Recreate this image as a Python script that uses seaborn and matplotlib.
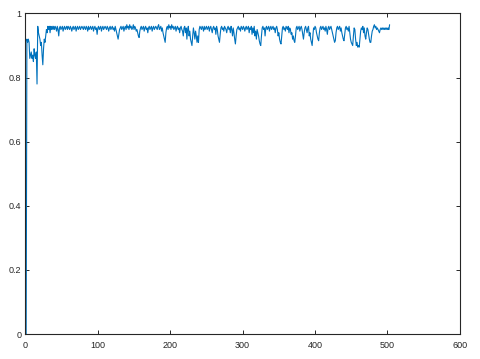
import matplotlib
matplotlib.use("Agg")
import matplotlib.pyplot as plt
import seaborn as sns
import pandas as pd

values_head = [
    0.00, 0.92, 0.91, 0.92, 0.91, 0.86, 0.87, 0.88, 0.86, 0.87,
    0.85, 0.89, 0.87, 0.86, 0.88, 0.78, 0.96, 0.94, 0.93, 0.92,
    0.90, 0.91, 0.87, 0.84, 0.89, 0.92, 0.91, 0.93, 0.95, 0.94,
    0.96, 0.95, 0.96, 0.94, 0.96, 0.95, 0.96, 0.95, 0.96, 0.95,
    0.96, 0.955, 0.945, 0.96, 0.95, 0.93, 0.955, 0.96, 0.95, 0.955,
    0.96, 0.945, 0.955, 0.96, 0.95, 0.955, 0.96, 0.95, 0.96, 0.955,
    0.95, 0.96, 0.955, 0.945, 0.955, 0.96, 0.95, 0.955, 0.96, 0.945,
    0.955, 0.96, 0.95, 0.955, 0.96, 0.95, 0.955, 0.96, 0.955, 0.95,
    0.96, 0.955, 0.95, 0.96, 0.955, 0.945, 0.96, 0.95, 0.955, 0.96,
    0.95, 0.955, 0.96, 0.945, 0.955, 0.96, 0.95, 0.955, 0.935, 0.955,
]
values_mid1 = [
    0.96, 0.95, 0.955, 0.96, 0.945, 0.955, 0.96, 0.95, 0.955, 0.96,
    0.955, 0.95, 0.96, 0.955, 0.945, 0.955, 0.96, 0.95, 0.955, 0.96,
    0.95, 0.955, 0.945, 0.96, 0.95, 0.94, 0.93, 0.92, 0.935, 0.95,
    0.955, 0.96, 0.95, 0.955, 0.96, 0.945, 0.955, 0.96, 0.95, 0.965,
    0.955, 0.96, 0.95, 0.965, 0.955, 0.96, 0.95, 0.955, 0.965, 0.95,
    0.96, 0.955, 0.945, 0.95, 0.94, 0.93, 0.925, 0.945, 0.955, 0.96,
    0.95, 0.955, 0.96, 0.945, 0.955, 0.96, 0.95, 0.955, 0.94, 0.955,
    0.96, 0.95, 0.955, 0.96, 0.945, 0.955, 0.96, 0.95, 0.955, 0.96,
    0.955, 0.95, 0.96, 0.965, 0.95, 0.955, 0.96, 0.945, 0.955, 0.94,
    0.93, 0.92, 0.91, 0.94, 0.955, 0.96, 0.95, 0.965, 0.955, 0.96,
]
values_mid2 = [
    0.95, 0.965, 0.955, 0.96, 0.95, 0.955, 0.96, 0.945, 0.955, 0.96,
    0.95, 0.955, 0.94, 0.955, 0.96, 0.95, 0.945, 0.93, 0.955, 0.96,
    0.94, 0.955, 0.92, 0.95, 0.96, 0.93, 0.945, 0.92, 0.91, 0.90,
    0.93, 0.955, 0.94, 0.92, 0.945, 0.93, 0.91, 0.93, 0.91, 0.95,
    0.96, 0.955, 0.95, 0.96, 0.955, 0.945, 0.96, 0.95, 0.955, 0.96,
    0.95, 0.955, 0.96, 0.945, 0.955, 0.96, 0.95, 0.94, 0.955, 0.96,
    0.95, 0.955, 0.935, 0.96, 0.95, 0.93, 0.92, 0.91, 0.935, 0.955,
    0.96, 0.95, 0.955, 0.945, 0.96, 0.955, 0.95, 0.94, 0.955, 0.96,
    0.95, 0.955, 0.94, 0.96, 0.95, 0.93, 0.955, 0.94, 0.92, 0.905,
    0.93, 0.95, 0.955, 0.96, 0.95, 0.955, 0.945, 0.96, 0.955, 0.95,
]
values_mid3 = [
    0.96, 0.955, 0.945, 0.955, 0.96, 0.95, 0.955, 0.96, 0.94, 0.955,
    0.95, 0.96, 0.935, 0.955, 0.94, 0.96, 0.93, 0.945, 0.92, 0.95,
    0.94, 0.93, 0.915, 0.905, 0.90, 0.93, 0.955, 0.96, 0.95, 0.955,
    0.93, 0.955, 0.96, 0.95, 0.955, 0.96, 0.945, 0.955, 0.96, 0.95,
    0.955, 0.96, 0.95, 0.955, 0.94, 0.955, 0.96, 0.95, 0.93, 0.94,
    0.92, 0.91, 0.905, 0.93, 0.955, 0.96, 0.95, 0.955, 0.945, 0.96,
    0.955, 0.95, 0.96, 0.94, 0.955, 0.95, 0.935, 0.94, 0.92, 0.93,
    0.915, 0.91, 0.93, 0.955, 0.96, 0.95, 0.955, 0.96, 0.945, 0.955,
    0.96, 0.95, 0.935, 0.92, 0.94, 0.955, 0.96, 0.95, 0.94, 0.955,
    0.96, 0.93, 0.94, 0.92, 0.91, 0.90, 0.93, 0.955, 0.95, 0.96,
]
values_tail = [
    0.955, 0.94, 0.93, 0.92, 0.915, 0.94, 0.955, 0.96, 0.95, 0.955,
    0.96, 0.95, 0.955, 0.945, 0.96, 0.95, 0.935, 0.955, 0.96, 0.95,
    0.955, 0.96, 0.95, 0.94, 0.93, 0.92, 0.91, 0.915, 0.94, 0.955,
    0.96, 0.95, 0.955, 0.96, 0.945, 0.955, 0.94, 0.93, 0.92, 0.915,
    0.935, 0.955, 0.96, 0.95, 0.955, 0.945, 0.96, 0.94, 0.92, 0.91,
    0.905, 0.90, 0.93, 0.955, 0.95, 0.92, 0.90, 0.91, 0.895, 0.90,
    0.895, 0.92, 0.945, 0.955, 0.95, 0.96, 0.94, 0.955, 0.93, 0.92,
    0.94, 0.955, 0.95, 0.935, 0.92, 0.91, 0.91, 0.93, 0.945, 0.95,
    0.96, 0.965, 0.955, 0.96, 0.95, 0.955, 0.95, 0.945, 0.94, 0.95,
    0.955, 0.95, 0.955, 0.95, 0.955, 0.95, 0.955, 0.95, 0.955, 0.95,
    0.955, 0.95, 0.965,
]

values = values_head + values_mid1 + values_mid2 + values_mid3 + values_tail
steps = list(range(1, len(values) + 1))

x_ticks = [0, 100, 200, 300, 400, 500, 600]
y_ticks = [0, 0.2, 0.4, 0.6, 0.8, 1]
y_tick_labels = ["0", "0.2", "0.4", "0.6", "0.8", "1"]

sns.set_theme(style="white")
plt.rcParams["font.family"] = ["Liberation Sans", "DejaVu Sans"]

df = pd.DataFrame({"step": steps, "value": values})

fig = plt.figure(figsize=(4.8, 3.59), dpi=100)
ax = fig.add_axes([0.053, 0.0696, 0.905, 0.8928])
sns.lineplot(data=df, x="step", y="value", ax=ax, color="#0072BD", linewidth=0.8)

ax.set_xlim(0, 600)
ax.set_ylim(0, 1)
ax.set_xticks(x_ticks)
ax.set_xticklabels([str(t) for t in x_ticks])
ax.set_yticks(y_ticks)
ax.set_yticklabels(y_tick_labels)
ax.set_xlabel("")
ax.set_ylabel("")

for s in ax.spines.values():
    s.set_visible(True)
    s.set_color("#262626")
    s.set_linewidth(0.8)

ax.tick_params(axis="both", which="both", direction="in", length=3, width=0.7,
               colors="#262626", labelsize=6.5, top=True, right=True,
               bottom=True, left=True)
ax.tick_params(axis="x", pad=5)
ax.tick_params(axis="y", pad=3)

fig.savefig("out.png", dpi=100)
